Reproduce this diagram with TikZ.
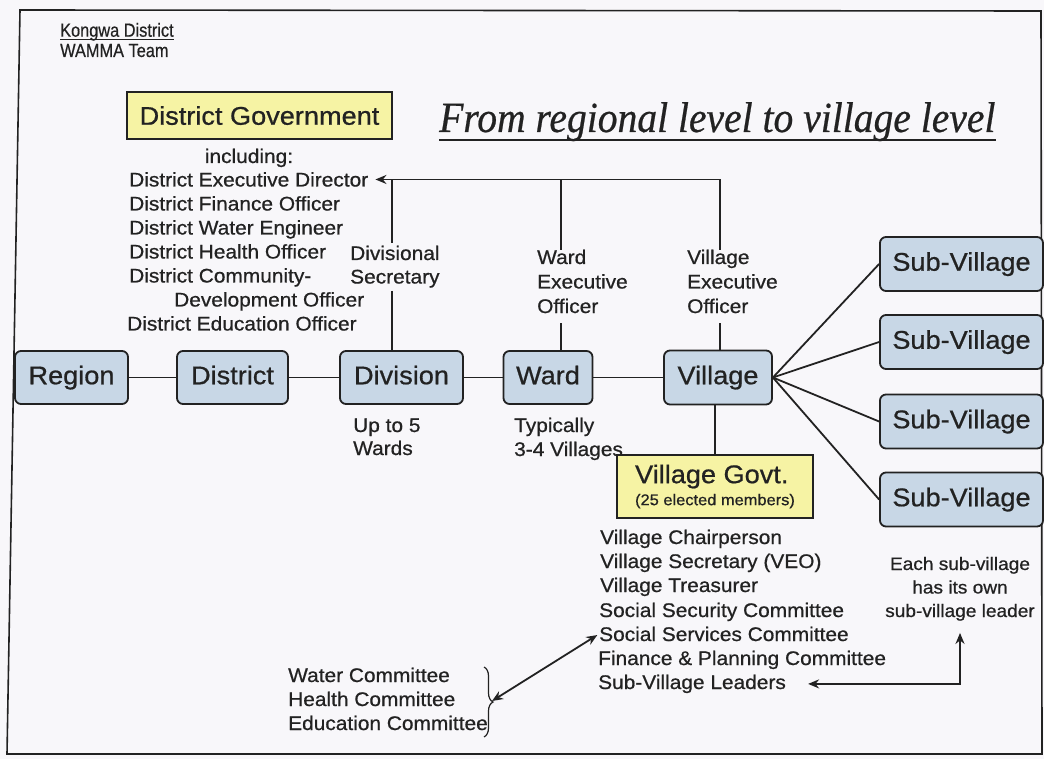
\documentclass[tikz,border=0pt]{standalone}
\usepackage{fontspec}
\setmainfont{Liberation Sans}[FakeStretch=1.06,FakeBold=0.7]
\newfontfamily\hdrfont{Liberation Sans}[FakeStretch=0.86,FakeBold=0.5]
\newfontfamily\ttlfont{Liberation Serif}[FakeStretch=0.92,FakeBold=0.5]
\usetikzlibrary{arrows.meta,decorations.pathreplacing,calc}
\definecolor{bgc}{HTML}{F8F7FA}
\definecolor{boxblue}{HTML}{C8D7E6}
\definecolor{boxyellow}{HTML}{F6F3A4}
\definecolor{ink}{HTML}{222222}
\newcommand\fsmain{\fontsize{19.7}{24}\selectfont}
\newcommand\fsbig{\fontsize{25.6}{30}\selectfont}
\newcommand\fsnote{\fontsize{15.5}{18}\selectfont}
\newcommand\fssub{\fontsize{18}{20}\selectfont}
\begin{document}
\begin{tikzpicture}[x=1pt,y=-1pt,
  lvl/.style={draw=ink, line width=1.8pt, fill=boxblue, rounded corners=6pt, inner sep=0pt,
    font=\fsbig, text=ink, minimum height=53pt, text height=18.5pt, text depth=5pt},
  gov/.style={draw=ink, line width=1.8pt, fill=boxyellow, inner sep=0pt, text=ink},
  txt/.style={inner sep=0pt, anchor=base west, font=\fsmain, text=ink},
  ctxt/.style={inner sep=0pt, anchor=base, text=ink},
  conn/.style={draw=ink, line width=1.8pt},
  tip/.style={-{Stealth[length=11pt,width=9pt]}},
  dtip/.style={{Stealth[length=11pt,width=9pt]}-{Stealth[length=11pt,width=9pt]}},
  hdr/.style={inner sep=0pt, anchor=base west, text=ink, font={\hdrfont\fontsize{19}{20}\selectfont}}
]
\useasboundingbox (0,0) rectangle (1044,759);
\fill[bgc] (0,0) rectangle (1044,759);
\draw[ink, line width=1.6pt] (20,10) -- (1041,11) -- (1042,754) -- (7,754) -- cycle;

% header
\node[hdr] (kongwa) at (60,36.7) {Kongwa District};
\node[hdr] (wamma) at (60,57) {WAMMA Team};
\draw[ink, line width=1pt] ([yshift=-3pt]kongwa.base west) -- ([yshift=-3pt]kongwa.base east);

% title
\node[inner sep=0pt, anchor=base west, text=ink, font={\ttlfont\itshape\fontsize{43}{50}\selectfont}] (title) at (439,132) {From regional level to village level};
\draw[ink, line width=2pt] ([yshift=-8pt]title.base west) -- ([yshift=-8pt]title.base east);

% district government
\node[gov, minimum width=265pt, minimum height=47pt, font=\fsbig, text height=18.5pt, text depth=0pt] (distgov) at (259.5,115.5) {District Government};
\node[ctxt, font=\fsmain] (incl) at (249,163) {including:};
\node[txt] (ded) at (129,186.5) {District Executive Director};
\node[txt] (dfo) at (129,210.5) {District Finance Officer};
\node[txt] (dwe) at (129,234.5) {District Water Engineer};
\node[txt] (dho) at (129,258.5) {District Health Officer};
\node[txt] (dcd) at (129,282.5) {District Community-};
\node[txt] (ddo) at (174,306.5) {Development Officer};
\node[txt] (deo) at (127,330.5) {District Education Officer};

% officer labels
\node[txt] (divA) at (350,260) {Divisional};
\node[txt] (divB) at (350,283.5) {Secretary};
\node[txt] (wA) at (537,264) {Ward};
\node[txt] (wB) at (537,288.5) {Executive};
\node[txt] (wC) at (537,313) {Officer};
\node[txt] (vA) at (687,264) {Village};
\node[txt] (vB) at (687,288.5) {Executive};
\node[txt] (vC) at (687,313) {Officer};

% level boxes
\node[lvl, minimum width=113pt] (region) at (71.5,377.5) {Region};
\node[lvl, minimum width=111pt] (district) at (232.5,377.5) {District};
\node[lvl, minimum width=123pt] (division) at (401.5,377.5) {Division};
\node[lvl, minimum width=89pt] (ward) at (548,377.5) {Ward};
\node[lvl, minimum width=108pt, minimum height=54pt] (village) at (718,377.5) {Village};
\node[lvl, minimum width=163pt, minimum height=54pt] (sv1) at (961.5,264) {Sub-Village};
\node[lvl, minimum width=163pt, minimum height=54pt] (sv2) at (961.5,342) {Sub-Village};
\node[lvl, minimum width=163pt, minimum height=54pt] (sv3) at (961.5,421.5) {Sub-Village};
\node[lvl, minimum width=163pt, minimum height=54pt] (sv4) at (961.5,499.5) {Sub-Village};

% notes under boxes
\node[txt] (up5a) at (353,432) {Up to 5};
\node[txt] (up5b) at (353,455) {Wards};
\node[txt] (typa) at (514,432) {Typically};
\node[txt] (typb) at (514,456) {3-4 Villages};

% village government
\node[gov, minimum width=196pt, minimum height=63pt, align=left, font=\fontsize{25.6}{22}\selectfont] (vgov) at (715,486.5) {Village Govt.\\{\fsnote (25 elected members)}};
\node[txt] (vl1) at (600,544) {Village Chairperson};
\node[txt] (vl2) at (600,568) {Village Secretary (VEO)};
\node[txt] (vl3) at (600,592) {Village Treasurer};
\node[txt] (vl4) at (599,617) {Social Security Committee};
\node[txt] (vl5) at (599,641) {Social Services Committee};
\node[txt] (vl6) at (598,665) {Finance \& Planning Committee};
\node[txt] (vl7) at (598,689) {Sub-Village Leaders};

\node[ctxt, font=\fssub] (each1) at (960,570) {Each sub-village};
\node[ctxt, font=\fssub] (each2) at (960,593.5) {has its own};
\node[ctxt, font=\fssub] (each3) at (960,617) {sub-village leader};

% committees
\node[txt] (water) at (288,682) {Water Committee};
\node[txt] (health) at (288,706) {Health Committee};
\node[txt] (educ) at (288,730) {Education Committee};
\draw[ink, line width=1.2pt, decorate, decoration={brace, amplitude=9pt}] (484,667) -- (484,737);
\coordinate (btip) at (492,701);

% connectors
\coordinate (tvil) at (720,0 |- ded.east);
\coordinate (tdiv) at (392,0 |- ded.east);
\coordinate (tward) at (561,0 |- ded.east);
\draw[conn, tip, shorten >=7pt] (tvil |- vA.north) -- (tvil) -- (ded.east);
\draw[conn, shorten >=3pt] (tdiv) -- (tdiv |- divA.north);
\draw[conn] (tward) -- (tward |- wA.north);
\draw[conn, shorten <=3pt] (tdiv |- divB.south) -- (tdiv |- division.north);
\draw[conn, shorten <=10pt] (tward |- wC.south) -- (tward |- ward.north);
\draw[conn, shorten <=10pt] (tvil |- vC.south) -- (tvil |- village.north);

\draw[conn] (region.east) -- (district.west);
\draw[conn] (district.east) -- (division.west);
\draw[conn] (division.east) -- (ward.west);
\draw[conn] (ward.east) -- (village.west);
\draw[conn] (village.east) -- (sv1.west);
\draw[conn] (village.east) -- (sv2.west);
\draw[conn] (village.east) -- (sv3.west);
\draw[conn] (village.east) -- (sv4.west);
\draw[conn] (vgov.north) -- (vgov.north |- village.south);

\draw[conn, dtip, shorten <=22pt, shorten >=12pt] (vl7.east) -- (vl7.east -| each3.south) -- (each3.south);
\draw[conn, dtip, shorten >=2pt] (btip) -- (vl5.west);
\end{tikzpicture}
\end{document}
